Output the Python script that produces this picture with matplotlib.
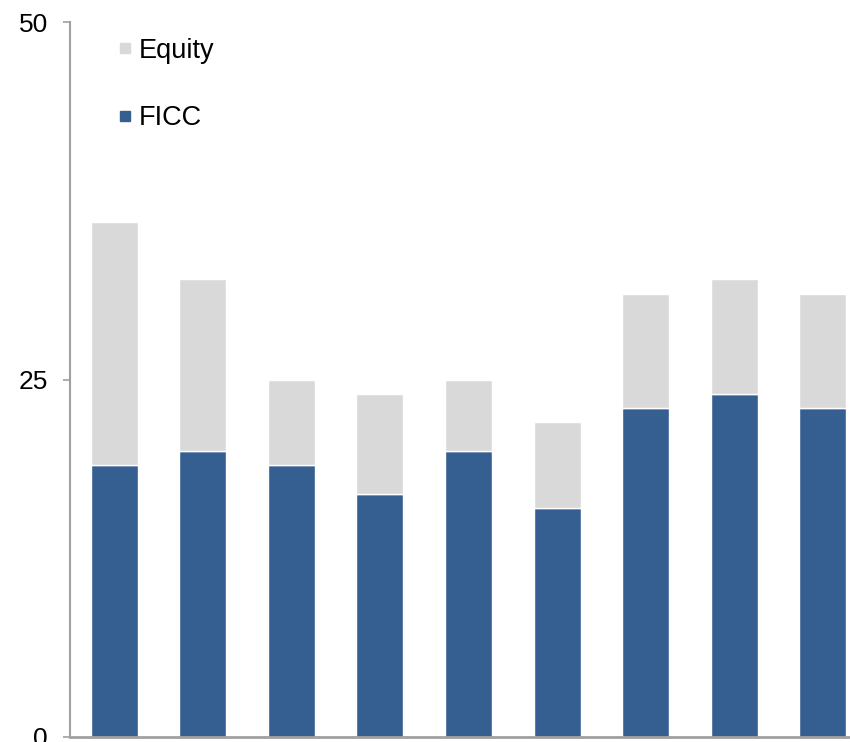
import matplotlib.pyplot as plt
from matplotlib.lines import Line2D

plt.rcParams["font.family"] = ["Liberation Sans", "DejaVu Sans"]

# Revenue split by business line
ficc = [19, 20, 19, 17, 20, 16, 23, 24, 23]
equity = [17, 12, 6, 7, 5, 6, 8, 8, 8]
positions = list(range(len(ficc)))

ficc_color = "#365F91"
equity_color = "#D9D9D9"

fig = plt.figure(figsize=(8.5, 7.42), dpi=100)
ax = fig.add_axes([70 / 850, 5 / 742, 797 / 850, 715 / 742])

ax.bar(positions, ficc, width=0.53, color=ficc_color, edgecolor="white", linewidth=1)
ax.bar(positions, equity, bottom=ficc, width=0.53, color=equity_color,
       edgecolor="white", linewidth=1)

ax.set_xlim(-0.5, 8.5)
ax.set_ylim(0, 50)
ax.set_yticks([0, 25, 50])
ax.set_xticks([])

for side in ["top", "right"]:
    ax.spines[side].set_visible(False)
ax.spines["left"].set_color("#A0A0A0")
ax.spines["bottom"].set_color("#A0A0A0")
ax.spines["left"].set_linewidth(1.5)
ax.spines["bottom"].set_linewidth(2)
ax.tick_params(axis="y", length=5, width=1.2, color="#A0A0A0", pad=11,
               labelsize=19)

# Legend with small square markers
handles = [
    Line2D([], [], marker="s", linestyle="", markersize=7.5, color=equity_color),
    Line2D([], [], marker="s", linestyle="", markersize=7.5, color=ficc_color),
]
ax.legend(handles, ["Equity", "FICC"], loc="upper left",
          bbox_to_anchor=(0.03, 1.012), frameon=False, fontsize=19.5,
          handlelength=0.5, handletextpad=0.25, labelspacing=1.53)

plt.savefig("out.png", dpi=100)
